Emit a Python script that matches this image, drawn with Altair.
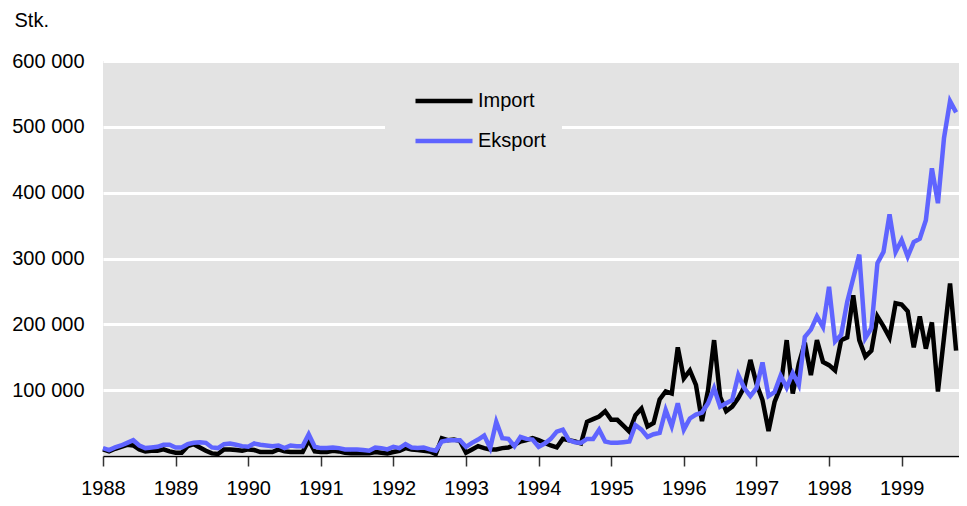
import altair as alt
import pandas as pd

# Monthly values, thousands of pieces, Jan 1988 - Oct 1999
import_k = [
    10, 7, 11, 14, 17, 16, 10, 7, 8, 8, 10, 7,          # 1988
    5, 5, 15, 18, 13, 8, 4, 3, 10, 10, 9, 8,            # 1989
    10, 9, 6, 6, 6, 10, 7, 6, 6, 6, 24, 7,              # 1990
    6, 6, 8, 7, 5, 4, 4, 4, 4, 6, 5, 4,                 # 1991
    6, 8, 12, 10, 9, 8, 7, 3, 27, 24, 25, 23,           # 1992
    5, 10, 15, 12, 10, 10, 12, 13, 17, 22, 24, 27,      # 1993
    24, 20, 16, 13, 26, 24, 22, 19, 52, 56, 60, 68,     # 1994
    55, 55, 46, 37, 62, 72, 45, 50, 86, 98, 95, 165,    # 1995
    118, 130, 108, 53, 100, 176, 90, 68, 75, 88, 105, 146,  # 1996
    110, 85, 38, 82, 105, 176, 95, 140, 172, 123, 176, 143, # 1997
    138, 130, 176, 180, 244, 176, 151, 160, 212, 197, 180, 232,  # 1998
    230, 220, 165, 212, 163, 203, 98, 180, 262, 160,    # 1999
]
export_k = [
    12, 9, 13, 16, 20, 24, 16, 12, 13, 14, 17, 17,      # 1988
    13, 13, 18, 20, 21, 20, 13, 12, 18, 19, 17, 15,     # 1989
    14, 19, 17, 16, 15, 16, 12, 16, 15, 15, 33, 14,     # 1990
    12, 12, 13, 12, 10, 10, 10, 9, 8, 13, 12, 10,       # 1991
    14, 12, 18, 13, 12, 13, 10, 8, 22, 24, 24, 24,      # 1992
    14, 20, 25, 31, 12, 52, 27, 26, 15, 29, 26, 25,     # 1993
    14, 19, 26, 37, 40, 24, 21, 20, 26, 26, 40, 22,     # 1994
    20, 20, 21, 22, 47, 40, 29, 33, 35, 70, 45, 80,     # 1995
    40, 57, 63, 66, 80, 103, 75, 80, 85, 123, 103, 91,  # 1996
    103, 142, 91, 97, 122, 104, 126, 108, 181, 192, 212, 196,  # 1997
    257, 174, 184, 234, 270, 306, 179, 194, 293, 310, 367, 310,  # 1998
    328, 303, 325, 330, 358, 437, 384, 483, 539, 522,   # 1999
]
series_names = ["Import", "Eksport"]
series_colors = ["#000000", "#5f64ff"]
year_ticks = list(range(1988, 2000))
y_ticks = [0, 100000, 200000, 300000, 400000, 500000, 600000]

rows = []
for name, vals in zip(series_names, [import_k, export_k]):
    for i, v in enumerate(vals):
        rows.append({"t": 1988 + i / 12.0, "value": v * 1000, "series": name})
df = pd.DataFrame(rows)

FONT = "Liberation Sans"
FS = 20

x = alt.X(
    "t:Q",
    scale=alt.Scale(domain=[1988, 1999.79], nice=False, zero=False),
    axis=alt.Axis(values=year_ticks, format="d", title=None, grid=False,
                  domainColor="#000000", domainWidth=1.5, tickColor="#333333",
                  tickSize=10, tickWidth=1.5, labelPadding=12, labelFontSize=FS,
                  labelFont=FONT, labelColor="#000000", labelFlush=False),
)
y = alt.Y(
    "value:Q",
    scale=alt.Scale(domain=[0, 600000], nice=False),
    axis=alt.Axis(values=y_ticks,
                  labelExpr="datum.value == 0 ? '' : replace(format(datum.value, ','), ',', ' ')",
                  title="Stk.", titleAngle=0, titleAlign="left", titleBaseline="alphabetic",
                  titleX=-89, titleY=-35, titleFontSize=FS, titleFont=FONT,
                  titleFontWeight="normal", titleColor="#000000",
                  grid=True, gridColor="#ffffff", gridWidth=3, domain=False, ticks=False,
                  labelPadding=19, labelFontSize=FS, labelFont=FONT, labelColor="#000000"),
)
color = alt.Color(
    "series:N",
    scale=alt.Scale(domain=series_names, range=series_colors),
    legend=alt.Legend(title=None, orient="none", legendX=282, legendY=4,
                      symbolType="stroke", symbolSize=3249, symbolStrokeWidth=4.5,
                      clipHeight=40, rowPadding=0, padding=16, symbolOffset=12,
                      labelOffset=3, labelFontSize=FS, labelFont=FONT,
                      labelColor="#000000", fillColor="#e3e3e3"),
)

base = alt.Chart(df)
imp = base.transform_filter("datum.series == 'Import'").mark_line(strokeWidth=4.5).encode(x=x, y=y, color=color)
exp = base.transform_filter("datum.series == 'Eksport'").mark_line(strokeWidth=4.5).encode(x=x, y=y, color=color)

chart = alt.layer(imp, exp).properties(
    width=856, height=395,
    padding={"left": 95, "top": 53, "right": 0, "bottom": 42},
    autosize=alt.AutoSizeParams(type="none"),
).configure_view(fill="#e3e3e3", strokeWidth=0)

chart.save("out.html", embed_options={"renderer": "svg", "actions": False})
